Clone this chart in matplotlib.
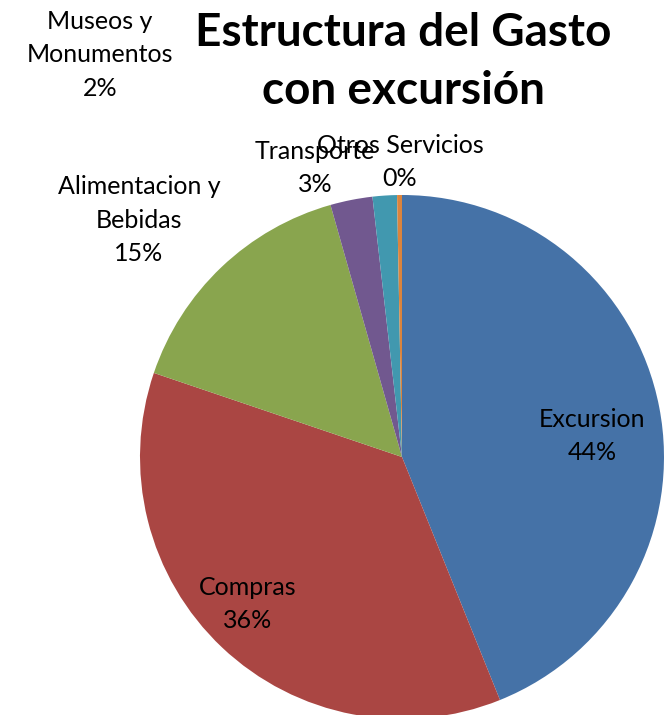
import matplotlib.pyplot as plt

# datos del gráfico
categorias = ['Excursion', 'Compras', 'Alimentacion y\nBebidas', 'Transporte',
              'Museos y\nMonumentos', 'Otros Servicios']
porcentajes = [43.9, 36.3, 15.4, 2.6, 1.5, 0.3]
colores = ['#4572A7', '#AA4643', '#89A54E', '#71588F', '#4198AF', '#DB843D']

# posiciones de las etiquetas (pixeles de la imagen, centro del texto)
pos_etiquetas = [(592, 436), (248, 604), (139, 220), (315, 168),
                 (100, 55), (400, 162)]

W, H = 664, 715
fig = plt.figure(figsize=(W / 100, H / 100), dpi=100)
plt.rcParams['font.family'] = ['Lato', 'DejaVu Sans']

# círculo del pie: centro (402, 457), radio 262 px
cx, cy, r = 402, 457, 262
ax = fig.add_axes([(cx - r) / W, (H - cy - r) / H, 2 * r / W, 2 * r / H])
ax.pie(porcentajes, colors=colores, startangle=90, counterclock=False,
       wedgeprops=dict(linewidth=0))
ax.set_xlim(-1, 1)
ax.set_ylim(-1, 1)
ax.set_aspect('equal')
ax.axis('off')

for cat, val, (x, y) in zip(categorias, porcentajes, pos_etiquetas):
    fig.text(x / W, 1 - y / H, f'{cat}\n{val:.0f}%', ha='center', va='center',
             fontsize=18, linespacing=1.55, color='black')

fig.text(403 / W, 1 - 62 / H, 'Estructura del Gasto\ncon excursión',
         ha='center', va='center', fontsize=33, fontweight='bold',
         linespacing=1.45)

fig.savefig('out.png', dpi=100)
